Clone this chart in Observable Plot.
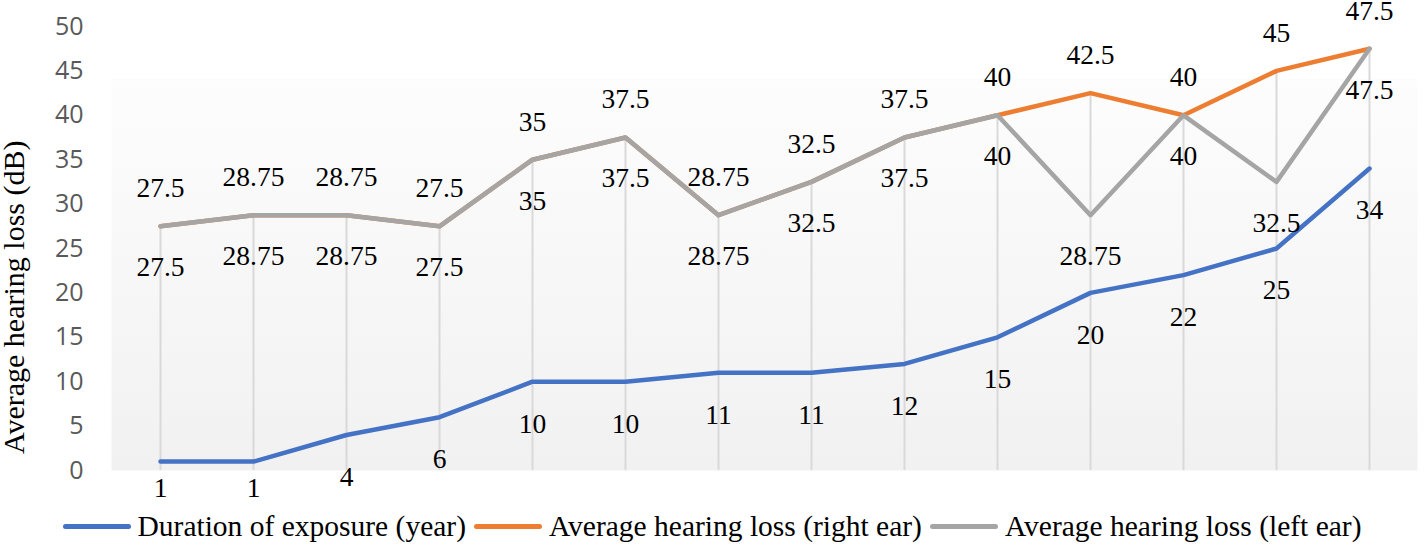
<!DOCTYPE html>
<html>
<head>
<meta charset="utf-8">
<script src="https://cdn.jsdelivr.net/npm/d3@7"></script>
<script src="https://cdn.jsdelivr.net/npm/@observablehq/plot@0.6"></script>
<style>
  html, body { margin: 0; padding: 0; background: #fff; }
  #wrap { width: 1424px; height: 548px; position: relative; overflow: hidden; }
  .legend { display: flex; justify-content: center; align-items: center; height: 43px;
    font-size: 29.5px; color: #000; font-family: "Times New Roman"; }
  .legend .item { display: flex; align-items: center; margin: 0 4px; }
  .legend .sw { width: 68px; height: 5px; border-radius: 3px; margin-right: 7px; }
  .ytitle { position: absolute; left: 0; top: 0; font-size: 30px; color: #000; white-space: nowrap;
    transform-origin: 0 0; font-family: "Times New Roman"; }
</style>
</head>
<body>
<div id="wrap"></div>
<script>
// ---- data ----
const categories = [1, 2, 3, 4, 5, 6, 7, 8, 9, 10, 11, 12, 13, 14];
const duration = [1, 1, 4, 6, 10, 10, 11, 11, 12, 15, 20, 22, 25, 34];
const rightEar = [27.5, 28.75, 28.75, 27.5, 35, 37.5, 28.75, 32.5, 37.5, 40, 42.5, 40, 45, 47.5];
const leftEar = [27.5, 28.75, 28.75, 27.5, 35, 37.5, 28.75, 32.5, 37.5, 40, 28.75, 40, 32.5, 47.5];
const yTicks = [0, 5, 10, 15, 20, 25, 30, 35, 40, 45, 50];
const seriesNames = ["Duration of exposure (year)", "Average hearing loss (right ear)", "Average hearing loss (left ear)"];
const seriesColors = ["#4472c4", "#ed7d31", "#a5a5a5"];
const yTitle = "Average hearing loss (dB)";

const rows = categories.map((c, i) => ({
  c, dur: duration[i], right: rightEar[i], left: leftEar[i],
  top: Math.max(duration[i], rightEar[i], leftEar[i])
}));

const serif = "Times New Roman";

const chart = Plot.plot({
  width: 1424,
  height: 505,
  marginLeft: 111,
  marginRight: 7,
  marginTop: 26,
  marginBottom: 35,
  style: { fontFamily: serif, fontSize: "27.5px", background: "transparent", color: "#000" },
  x: { type: "point", domain: categories, padding: 0.5, axis: null },
  y: { domain: [0, 50], axis: null },
  marks: [
    Plot.frame({ fill: "url(#bggrad)", stroke: "none" }),
    Plot.axisY({ ticks: yTicks, tickSize: 0, tickPadding: 28, label: null,
      fontFamily: "Open Sans, sans-serif", fontSize: 25, color: "#595959" }),
    Plot.ruleX(rows, { x: "c", y1: 0, y2: "top", stroke: "#d9d9d9", strokeWidth: 2 }),
    Plot.line(rows, { x: "c", y: "dur", stroke: seriesColors[0], strokeWidth: 4.5, strokeLinejoin: "round", strokeLinecap: "round" }),
    Plot.line(rows, { x: "c", y: "right", stroke: seriesColors[1], strokeWidth: 4.5, strokeLinejoin: "round", strokeLinecap: "round" }),
    Plot.line(rows, { x: "c", y: "left", stroke: seriesColors[2], strokeWidth: 4.5, strokeLinejoin: "round", strokeLinecap: "round" }),
    // data labels: right ear above, left ear and duration below
    Plot.text(rows, { x: "c", y: "right", text: d => String(d.right), dy: -38, fill: "#000", fontFamily: serif }),
    Plot.text(rows, { x: "c", y: "left", text: d => String(d.left), dy: 41, fill: "#000", fontFamily: serif }),
    // the lowest labels are kept inside the chart area, as in the source chart
    Plot.text(rows, { x: "c", y: d => Math.max(d.dur, 2.7), text: d => String(d.dur), dy: 42, fill: "#000", fontFamily: serif })
  ]
});

// gradient background of plot area
const svg = d3.select(chart);
const defs = svg.insert("defs", ":first-child");
const g = defs.append("linearGradient").attr("id", "bggrad").attr("x1", 0).attr("y1", 0).attr("x2", 0).attr("y2", 1);
g.append("stop").attr("offset", 0).attr("stop-color", "#ffffff");
g.append("stop").attr("offset", 0.115).attr("stop-color", "#ffffff");
g.append("stop").attr("offset", 0.118).attr("stop-color", "#fdfdfd");
g.append("stop").attr("offset", 1).attr("stop-color", "#f1f1f1");

const wrap = document.getElementById("wrap");
wrap.appendChild(chart);

// rotated y-axis title
const title = document.createElement("div");
title.className = "ytitle";
title.textContent = yTitle;
wrap.appendChild(title);
const tw = title.offsetWidth, th = title.offsetHeight;
title.style.transform = `translate(${14 - th / 2}px, ${297 + tw / 2}px) rotate(-90deg)`;

const legend = document.createElement("div");
legend.className = "legend";
seriesNames.forEach((name, i) => {
  const item = document.createElement("div");
  item.className = "item";
  const sw = document.createElement("span");
  sw.className = "sw";
  sw.style.background = seriesColors[i];
  const t = document.createElement("span");
  t.textContent = name;
  item.appendChild(sw);
  item.appendChild(t);
  legend.appendChild(item);
});
wrap.appendChild(legend);
</script>
</body>
</html>
